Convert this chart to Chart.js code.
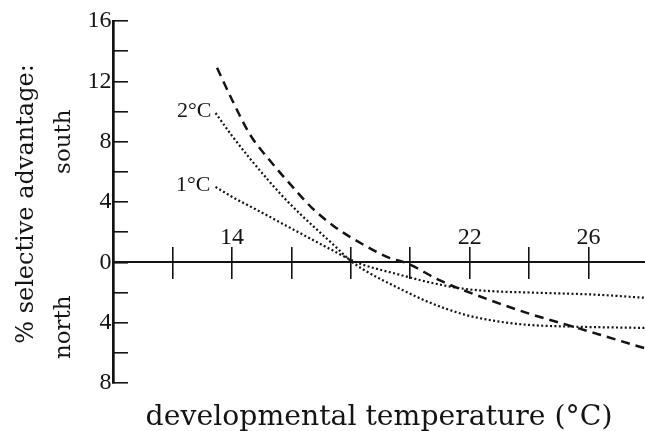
<!DOCTYPE html>
<html>
<head>
<meta charset="utf-8">
<title>selective advantage</title>
<script src="https://cdn.jsdelivr.net/npm/chart.js@4.4.1/dist/chart.umd.min.js"></script>
<style>
  html, body { margin: 0; padding: 0; background: #fff; }
  #wrap { width: 645px; height: 431px; }
</style>
</head>
<body>
<div id="wrap"><canvas id="grafico"></canvas></div>
<script>
// curva tracejada (sem rótulo)
var tempDash = [13.5, 14.0, 14.6, 15.3, 16.0, 16.7, 17.5, 18.4, 19.3, 19.9, 21.0, 22.4, 24.0, 25.2, 26.3, 27.9];
var advDash  = [12.9, 10.8, 8.5, 6.7, 5.1, 3.6, 2.3, 1.2, 0.3, -0.07, -1.2, -2.3, -3.4, -4.1, -4.75, -5.7];

// curva pontilhada 2°C
var temp2 = [13.45, 14.0, 14.6, 15.2, 15.7, 16.3, 16.9, 17.4, 18.0, 18.4, 19.6, 20.7, 21.8, 22.9, 24.0, 25.2, 27.9];
var adv2  = [9.9, 8.4, 6.9, 5.5, 4.4, 3.2, 2.1, 1.2, 0.1, -0.45, -1.7, -2.7, -3.45, -3.9, -4.15, -4.25, -4.35];

// curva pontilhada 1°C
var temp1 = [13.45, 14.0, 14.6, 15.2, 15.7, 16.3, 16.9, 17.4, 18.0, 18.4, 19.6, 20.7, 21.8, 22.9, 24.0, 26.3, 27.9];
var adv1  = [5.0, 4.35, 3.72, 3.1, 2.56, 1.93, 1.3, 0.78, 0.17, -0.15, -0.8, -1.35, -1.75, -1.93, -2.0, -2.15, -2.35];

// rótulos dos eixos
var xTickLabels = [14, 22, 26];
var yTickLabels = [16, 12, 8, 4, 0, -4, -8];
var curveLabels = ['2°C', '1°C'];

var tinta = '#141414';
var serif = 'Liberation Serif';

function pontos(xs, ys) {
  return xs.map(function (x, i) { return { x: x, y: ys[i] }; });
}

/* Textos: títulos dos eixos e nomes das curvas */
var textos = {
  id: 'textos',
  afterDraw: function (chart) {
    var ctx = chart.ctx;
    var area = chart.chartArea;
    var sx = chart.scales.x, sy = chart.scales.y;
    ctx.save();
    ctx.fillStyle = tinta;

    ctx.font = '22px "' + serif + '"';
    ctx.textAlign = 'right';
    ctx.textBaseline = 'middle';
    ctx.fillText(curveLabels[0], sx.getPixelForValue(temp2[0]) - 4, sy.getPixelForValue(adv2[0]) - 2);
    ctx.fillText(curveLabels[1], sx.getPixelForValue(temp1[0]) - 5, sy.getPixelForValue(adv1[0]) - 2);

    ctx.font = '28.3px "DejaVu Serif"';
    ctx.textAlign = 'center';
    ctx.textBaseline = 'alphabetic';
    ctx.fillText('developmental temperature (°C)', (area.left + area.right) / 2, area.bottom + 42);

    ctx.textBaseline = 'middle';
    ctx.font = '24px "DejaVu Serif"';
    ctx.save();
    ctx.translate(27, 204);
    ctx.rotate(-Math.PI / 2);
    ctx.fillText('% selective advantage:', 0, 0);
    ctx.restore();

    ctx.font = '23px "DejaVu Serif"';
    ctx.save();
    ctx.translate(64, sy.getPixelForValue(8));
    ctx.rotate(-Math.PI / 2);
    ctx.fillText('south', 0, 0);
    ctx.restore();

    ctx.save();
    ctx.translate(64, sy.getPixelForValue(-4.3));
    ctx.rotate(-Math.PI / 2);
    ctx.fillText('north', 0, 0);
    ctx.restore();

    ctx.restore();
  }
};

function semTick10(c) {
  return c.tick && c.tick.value === 10 ? 'rgba(0,0,0,0)' : tinta;
}

var ctx = document.getElementById('grafico').getContext('2d');
var grafico = new Chart(ctx, {
  type: 'scatter',
  data: {
    datasets: [{
      label: 'tracejada',
      data: pontos(tempDash, advDash),
      borderColor: tinta,
      borderWidth: 2.5,
      borderDash: [9, 6],
      showLine: true,
      cubicInterpolationMode: 'monotone',
      pointRadius: 0
    }, {
      label: curveLabels[0],
      data: pontos(temp2, adv2),
      borderColor: tinta,
      borderWidth: 2.2,
      borderDash: [2, 2.4],
      showLine: true,
      cubicInterpolationMode: 'monotone',
      pointRadius: 0
    }, {
      label: curveLabels[1],
      data: pontos(temp1, adv1),
      borderColor: tinta,
      borderWidth: 2.2,
      borderDash: [2, 2.4],
      showLine: true,
      cubicInterpolationMode: 'monotone',
      pointRadius: 0
    }]
  },
  options: {
    responsive: true,
    maintainAspectRatio: false,
    animation: false,
    layout: { padding: { top: 21, bottom: 48, left: 0, right: 0 } },
    plugins: {
      legend: { display: false },
      tooltip: { enabled: false }
    },
    scales: {
      x: {
        type: 'linear',
        min: 10,
        max: 27.9,
        position: { y: 0 },
        border: { display: true, color: tinta, width: 2 },
        grid: { drawOnChartArea: false, tickLength: 16, lineWidth: 1.6, color: semTick10 },
        ticks: { stepSize: 2, includeBounds: false, autoSkip: false, display: false },
        afterFit: function (s) { s.height = 0; }
      },
      xArriba: {
        type: 'linear',
        axis: 'x',
        min: 10,
        max: 27.9,
        position: { y: 0 },
        border: { display: false },
        grid: { drawOnChartArea: false, tickLength: -15, lineWidth: 1.6, color: semTick10 },
        ticks: {
          stepSize: 2,
          includeBounds: false,
          autoSkip: false,
          maxRotation: 0,
          padding: -24,
          color: tinta,
          font: { family: serif, size: 24 },
          callback: function (v) { return xTickLabels.indexOf(v) >= 0 ? String(v) : ''; }
        },
        afterFit: function (s) { s.height = 0; s.paddingLeft = 0; s.paddingRight = 0; }
      },
      y: {
        type: 'linear',
        min: -8,
        max: 16,
        position: 'left',
        border: { color: tinta, width: 2.7 },
        grid: { drawOnChartArea: false, tickLength: -15, lineWidth: 1.6, color: tinta },
        ticks: {
          stepSize: 2,
          autoSkip: false,
          padding: 16.5,
          color: tinta,
          font: { family: serif, size: 24 },
          callback: function (v) { return yTickLabels.indexOf(v) >= 0 ? String(Math.abs(v)) : ''; }
        },
        // a margem dos rótulos não deve empurrar a área do gráfico
        afterFit: function (s) { s.width = 113; s.paddingTop = 0; s.paddingBottom = 0; }
      }
    }
  },
  plugins: [textos]
});
</script>
</body>
</html>
